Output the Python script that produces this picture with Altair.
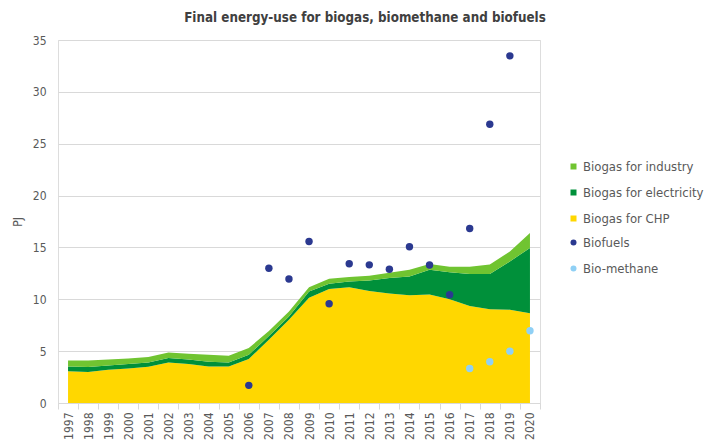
import altair as alt
import pandas as pd

years = [str(y) for y in range(1997, 2021)]
chp = [3.05, 2.98, 3.2, 3.33, 3.5, 3.91, 3.75, 3.53, 3.53, 4.24, 6.1, 8.02,
       10.15, 11.0, 11.17, 10.8, 10.55, 10.4, 10.45, 10.0, 9.35, 9.05, 9.0, 8.65]
electricity = [0.48, 0.48, 0.42, 0.42, 0.41, 0.42, 0.45, 0.45, 0.38, 0.41, 0.35, 0.33,
               0.6, 0.5, 0.55, 1.0, 1.5, 1.8, 2.4, 2.6, 3.1, 3.4, 4.65, 6.3]
industry = [0.57, 0.64, 0.58, 0.55, 0.52, 0.54, 0.55, 0.67, 0.65, 0.65, 0.5, 0.48,
            0.42, 0.47, 0.42, 0.46, 0.5, 0.65, 0.55, 0.54, 0.68, 0.9, 0.96, 1.45]

biofuel_years = [str(y) for y in range(2006, 2020)]
biofuels = [1.7, 13.0, 11.95, 15.57, 9.57, 13.42, 13.32, 12.9, 15.06, 13.3,
            10.43, 16.82, 26.88, 33.47]
biomethane_years = ["2017", "2018", "2019", "2020"]
biomethane = [3.33, 3.98, 5.0, 6.97]

area_names = ["Biogas for industry", "Biogas for electricity", "Biogas for CHP"]
area_colors = ["#70c431", "#00903a", "#ffd700"]
point_names = ["Biofuels", "Bio-methane"]
point_colors = ["#2b3990", "#8fd0f5"]

rows = []
for i, y in enumerate(years):
    rows.append({"year": y, "series": "Biogas for CHP", "value": chp[i], "ord": 0})
    rows.append({"year": y, "series": "Biogas for electricity", "value": electricity[i], "ord": 1})
    rows.append({"year": y, "series": "Biogas for industry", "value": industry[i], "ord": 2})
area_df = pd.DataFrame(rows)

prow = []
for y, v in zip(biofuel_years, biofuels):
    prow.append({"year": y, "series": "Biofuels", "value": v})
for y, v in zip(biomethane_years, biomethane):
    prow.append({"year": y, "series": "Bio-methane", "value": v})
point_df = pd.DataFrame(prow)

FONT = "DejaVu Sans Condensed"
GREY = "#595959"

xscale = alt.Scale(type="band", domain=years, paddingInner=0, paddingOuter=0)
xaxis = alt.Axis(title=None, labelAngle=-90, tickBand="extent", ticks=True, tickSize=6,
                 tickColor="#d9d9d9", domainColor="#d9d9d9", grid=False,
                 labelFontSize=12, labelColor=GREY, labelFont=FONT, labelPadding=3)
yscale = alt.Scale(domain=[0, 35], nice=False)
yaxis = alt.Axis(title="PJ", values=[0, 5, 10, 15, 20, 25, 30, 35], ticks=False,
                 domain=False, gridColor="#d9d9d9", labelFontSize=12, labelColor=GREY,
                 labelFont=FONT, labelPadding=12, titleFontSize=12, titleFont=FONT,
                 titleFontWeight="normal", titleColor=GREY, titleX=-34)

legend_common = dict(title=None, orient="none", legendX=509, symbolSize=36, rowPadding=12,
                     labelFontSize=13, labelFont=FONT, labelColor=GREY,
                     labelOffset=3, padding=0)

areas = alt.Chart(area_df).mark_area(opacity=1).encode(
    x=alt.X("year:O", scale=xscale, axis=xaxis, bandPosition=0.5),
    y=alt.Y("value:Q", stack="zero", scale=yscale, axis=yaxis),
    color=alt.Color("series:N", scale=alt.Scale(domain=area_names, range=area_colors),
                    legend=alt.Legend(legendY=120, symbolType="square", **legend_common)),
    order=alt.Order("ord:Q"),
)

points = alt.Chart(point_df).mark_circle(size=55, opacity=1).encode(
    x=alt.X("year:O", scale=xscale, axis=xaxis, bandPosition=0.5),
    y=alt.Y("value:Q", scale=yscale, axis=yaxis),
    color=alt.Color("series:N", scale=alt.Scale(domain=point_names, range=point_colors),
                    legend=alt.Legend(legendY=196, symbolType="circle", **legend_common)),
)

chart = alt.layer(areas, points).resolve_scale(color="independent").properties(
    width=482, height=363,
    autosize=alt.AutoSizeParams(type="none"),
    padding={"left": 50, "top": 32, "right": 170, "bottom": 40},
    title=alt.TitleParams("Final energy-use for biogas, biomethane and biofuels",
                          fontSize=13.3, font=FONT, fontWeight="bold", color="#404040",
                          anchor="middle", dx=66, offset=10),
).configure_view(stroke="#d9d9d9").configure(background="white")

chart.save("out.html", embed_options={"renderer": "svg", "actions": False})
